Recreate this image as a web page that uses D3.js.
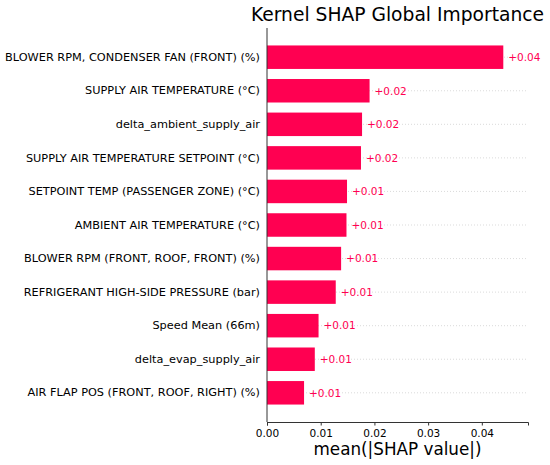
<!DOCTYPE html>
<html>
<head>
<meta charset="utf-8">
<script src="https://cdn.jsdelivr.net/npm/d3@7"></script>
<style>
  body { margin: 0; background: #fff; }
  svg text { font-family: "DejaVu Sans", sans-serif; }
</style>
</head>
<body>
<svg id="chart"></svg>
<script>
// Features, top to bottom
const features = [
  "BLOWER RPM, CONDENSER FAN (FRONT) (%)",
  "SUPPLY AIR TEMPERATURE (°C)",
  "delta_ambient_supply_air",
  "SUPPLY AIR TEMPERATURE SETPOINT (°C)",
  "SETPOINT TEMP (PASSENGER ZONE) (°C)",
  "AMBIENT AIR TEMPERATURE (°C)",
  "BLOWER RPM (FRONT, ROOF, FRONT) (%)",
  "REFRIGERANT HIGH-SIDE PRESSURE (bar)",
  "Speed Mean (66m)",
  "delta_evap_supply_air",
  "AIR FLAP POS (FRONT, ROOF, RIGHT) (%)"
];

// mean(|SHAP value|)
const shapValues = [0.0440, 0.0191, 0.0177, 0.0175, 0.0149, 0.0148, 0.0138, 0.0128, 0.0096, 0.0089, 0.0069];

const xTicks = [0, 0.01, 0.02, 0.03, 0.04];

const width = 550;
const height = 465;
const margin = { top: 28, right: 22, bottom: 43, left: 267 };
const pink = "#ff0051";
const font = "DejaVu Sans, sans-serif";

const svg = d3.select("#chart").attr("width", width).attr("height", height);

const xScale = d3
  .scaleLinear()
  .domain([0, 0.0486])
  .range([margin.left, width - margin.right]);

const yScale = d3
  .scaleBand()
  .domain(features)
  .range([margin.top, height - margin.bottom])
  .paddingInner(0.3)
  .paddingOuter(0.52);

// dotted guide lines behind the bars
svg
  .append("g")
  .selectAll("line")
  .data(features)
  .enter()
  .append("line")
  .attr("x1", xScale(0))
  .attr("x2", xScale.range()[1])
  .attr("y1", (d) => yScale(d) + yScale.bandwidth() / 2)
  .attr("y2", (d) => yScale(d) + yScale.bandwidth() / 2)
  .attr("stroke", "#cccccc")
  .attr("stroke-width", 0.7)
  .attr("stroke-dasharray", "1,2");

// bars
svg
  .append("g")
  .selectAll("rect")
  .data(shapValues)
  .enter()
  .append("rect")
  .attr("x", xScale(0))
  .attr("y", (d, i) => yScale(features[i]))
  .attr("width", (d) => xScale(d) - xScale(0))
  .attr("height", yScale.bandwidth())
  .attr("fill", pink);

// value labels
svg
  .append("g")
  .selectAll("text")
  .data(shapValues)
  .enter()
  .append("text")
  .attr("x", (d) => xScale(d) + 5)
  .attr("y", (d, i) => yScale(features[i]) + yScale.bandwidth() / 2)
  .attr("dy", "0.36em")
  .attr("fill", pink)
  .style("font-size", "10.5px")
  .text((d) => "+" + d.toFixed(2));

// y axis (labels only, no ticks)
const yAxis = svg
  .append("g")
  .attr("transform", `translate(${margin.left}, 0)`)
  .call(d3.axisLeft(yScale).tickSize(0).tickPadding(7))
  .attr("font-family", font);
yAxis.select(".domain").attr("stroke", "#333").attr("d", `M0,${margin.top}V${height - margin.bottom}`);
yAxis.selectAll("text").style("font-size", "11.3px").attr("fill", "#000");

// x axis
const xAxis = svg
  .append("g")
  .attr("transform", `translate(0, ${height - margin.bottom})`)
  .call(d3.axisBottom(xScale).tickValues(xTicks).tickFormat(d3.format(".2f")).tickSize(3.5).tickPadding(4))
  .attr("font-family", font);
xAxis.select(".domain").attr("stroke", "#333");
xAxis.selectAll(".tick line").attr("stroke", "#333");
xAxis.selectAll("text").style("font-size", "10.5px").attr("fill", "#000");

// axis title
svg
  .append("text")
  .attr("x", (xScale.range()[0] + xScale.range()[1]) / 2)
  .attr("y", height - margin.bottom + 33)
  .attr("text-anchor", "middle")
  .style("font-size", "16.8px")
  .text("mean(|SHAP value|)");

// chart title
svg
  .append("text")
  .attr("x", (xScale.range()[0] + xScale.range()[1]) / 2)
  .attr("y", 21)
  .attr("text-anchor", "middle")
  .style("font-size", "18.7px")
  .text("Kernel SHAP Global Importance");
</script>
</body>
</html>
